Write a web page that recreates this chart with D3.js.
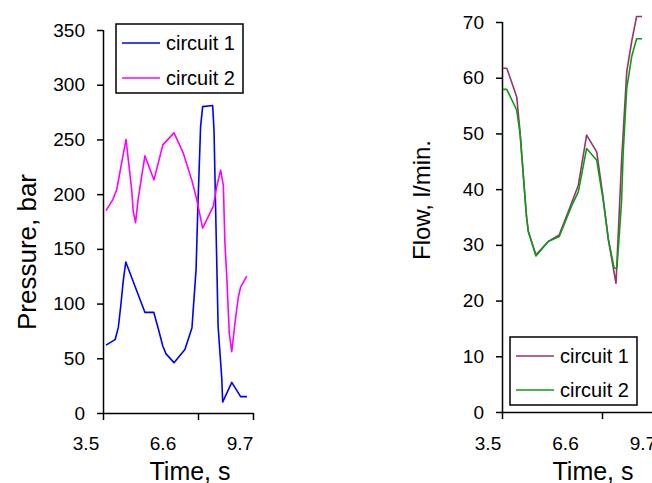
<!DOCTYPE html>
<html><head><meta charset="utf-8">
<script src="https://cdn.jsdelivr.net/npm/d3@7/dist/d3.min.js"></script>
<style>
body{margin:0;background:#fff}
svg{display:block;font-family:"Liberation Sans",Arial,Helvetica,sans-serif}
</style>
</head><body>
<svg id="chart" width="652" height="483"></svg>
<script>
// ---------- data ----------
const seriesNames = ["circuit 1", "circuit 2"];
const xTickLabels = ["3.5", "6.6", "9.7"];
const pressureTicks = [0, 50, 100, 150, 200, 250, 300, 350];
const flowTicks = [0, 10, 20, 30, 40, 50, 60, 70];

// Pressure, circuit 1 (time s, bar)
const pressure1Time = [3.5, 3.9, 4.04, 4.15, 4.26, 4.37, 5.21, 5.6, 5.8, 6.0, 6.14, 6.49, 6.97, 7.28, 7.46, 7.55, 7.66, 7.75, 8.19, 8.25, 8.34, 8.43, 8.59, 8.63, 9.03, 9.42, 9.7];
const pressure1     = [62, 67, 78, 98, 121, 138, 92, 92, 77, 61, 54, 46, 58, 78, 131, 195, 262, 280, 281, 258, 167, 79, 32, 10, 28, 15, 15];
// Pressure, circuit 2
const pressure2Time = [3.5, 3.8, 3.97, 4.38, 4.63, 4.7, 4.8, 4.91, 5.21, 5.61, 6.0, 6.49, 6.89, 7.27, 7.49, 7.75, 8.22, 8.37, 8.54, 8.66, 8.73, 8.81, 8.92, 9.03, 9.17, 9.32, 9.42, 9.69];
const pressure2     = [185, 195, 204, 250, 204, 184, 174, 195, 235, 213, 245, 256, 238, 213, 195, 169, 189, 207, 222, 208, 155, 125, 73, 56, 82, 106, 115, 125];

// Flow, circuit 1 (time s, l/min)
const flow1Time = [3.5, 3.67, 4.11, 4.26, 4.48, 4.55, 4.63, 4.97, 5.52, 6.01, 6.56, 6.86, 7.23, 7.68, 7.97, 8.2, 8.54, 8.69, 8.79, 9.02, 9.24, 9.46, 9.7];
const flow1     = [61.7, 61.7, 56.6, 50.3, 38.6, 35, 32.4, 28.2, 30.6, 31.8, 37.5, 40.7, 49.7, 46.7, 38.4, 30.9, 23.1, 36.3, 45.2, 61.1, 66.5, 71, 71];
// Flow, circuit 2
const flow2Time = [3.5, 3.67, 4.11, 4.26, 4.48, 4.55, 4.63, 4.97, 5.52, 6.01, 6.56, 6.86, 7.23, 7.68, 7.97, 8.2, 8.46, 8.58, 8.69, 8.79, 8.86, 9.02, 9.24, 9.46, 9.7];
const flow2     = [57.9, 57.9, 54.2, 50, 38.6, 35, 32.4, 28, 30.6, 31.5, 37, 39.5, 47.3, 45.2, 38, 31, 25.8, 25.8, 32, 38, 46.5, 58.1, 63.8, 67, 67];

// ---------- drawing ----------
const svg = d3.select("#chart");
const zip = (t, v) => t.map((d, i) => ({t: d, v: v[i]}));

function panel(cfg) {
  const g = svg.append("g");
  const x = d3.scaleLinear().domain([3.5, 9.7]).range(cfg.dataX);
  const y = d3.scaleLinear().domain(cfg.yDomain).range([cfg.y0, cfg.yTop]);

  // y axis
  const ya = g.append("g").attr("transform", `translate(${cfg.axisX},0)`)
    .call(d3.axisLeft(y).tickValues(cfg.yTicks).tickSize(6).tickPadding(12).tickSizeOuter(0));
  ya.select(".domain").attr("stroke", "#000").attr("stroke-width", 1.5)
    .attr("d", `M0.5,${cfg.yTop}V${cfg.y0}`);
  ya.selectAll(".tick line").attr("stroke", "#000").attr("stroke-width", 1.5);
  ya.selectAll(".tick text").attr("font-size", 19).attr("fill", "#000")
    .attr("font-family", "Liberation Sans, Arial, sans-serif");

  // x axis frame with tick marks
  const frame = d3.scaleLinear().domain([0, 1]).range([cfg.axisX, cfg.axisX + cfg.frameW]);
  const xa = g.append("g").attr("transform", `translate(0,${cfg.y0})`)
    .call(d3.axisBottom(frame).tickValues(cfg.frameTicks).tickSize(7).tickSizeOuter(0).tickFormat(""));
  xa.select(".domain").attr("stroke", "#000").attr("stroke-width", 1.5);
  xa.selectAll(".tick line").attr("stroke", "#000").attr("stroke-width", 1.5);

  // x tick labels
  const lab = d3.scalePoint().domain(xTickLabels).range(cfg.labelX);
  g.selectAll(".xl").data(xTickLabels).join("text")
    .attr("x", d => lab(d)).attr("y", 450)
    .attr("text-anchor", "middle").attr("font-size", 19).attr("fill", "#000").text(d => d);

  // titles
  g.append("text").attr("x", cfg.xTitleX).attr("y", 480).attr("text-anchor", "middle")
    .attr("font-size", 25).attr("fill", "#000").text("Time, s");
  g.append("text").attr("transform", `translate(${cfg.yTitleX},${cfg.yTitleY}) rotate(-90)`)
    .attr("text-anchor", "middle").attr("font-size", cfg.yTitleSize).attr("fill", "#000").text(cfg.yTitle);

  // lines
  const line = d3.line().x(d => x(d.t)).y(d => y(d.v));
  cfg.series.forEach((s, i) => {
    g.append("path").datum(s).attr("fill", "none").attr("stroke", cfg.colors[i])
      .attr("stroke-width", 1.6).attr("stroke-linejoin", "round").attr("d", line);
  });

  // legend
  const L = cfg.legend;
  g.append("rect").attr("x", L.x).attr("y", L.y).attr("width", L.w).attr("height", L.h)
    .attr("fill", "#fff").attr("stroke", "#000").attr("stroke-width", 1.5);
  seriesNames.forEach((n, i) => {
    const ly = L.y + L.row0 + i * L.step;
    g.append("line").attr("x1", L.x + 6).attr("x2", L.x + 44).attr("y1", ly).attr("y2", ly)
      .attr("stroke", cfg.colors[i]).attr("stroke-width", 1.6);
    g.append("text").attr("x", L.x + 50).attr("y", ly + 7).attr("font-size", 20)
      .attr("fill", "#000").text(n);
  });
}

panel({
  dataX: [106, 247], yDomain: [0, 350], y0: 413, yTop: 30, axisX: 103,
  yTicks: pressureTicks, frameW: 150, frameTicks: [0, 95 / 150, 1],
  labelX: [86, 240], xTitleX: 190, yTitleX: 36, yTitleY: 252, yTitleSize: 26,
  yTitle: "Pressure, bar",
  series: [zip(pressure1Time, pressure1), zip(pressure2Time, pressure2)],
  colors: ["#0000ff", "#ff00ff"],
  legend: {x: 116, y: 24, w: 127, h: 69, row0: 19, step: 35}
});

panel({
  dataX: [503, 642], yDomain: [0, 70], y0: 412, yTop: 22, axisX: 502,
  yTicks: flowTicks, frameW: 153, frameTicks: [0, 100 / 153, 1],
  labelX: [488, 643], xTitleX: 593, yTitleX: 430, yTitleY: 200, yTitleSize: 24,
  yTitle: "Flow, l/min.",
  series: [zip(flow1Time, flow1), zip(flow2Time, flow2)],
  colors: ["#993366", "#0f9a1a"],
  legend: {x: 510, y: 337, w: 127, h: 68, row0: 19, step: 34}
});
</script>
</body></html>
